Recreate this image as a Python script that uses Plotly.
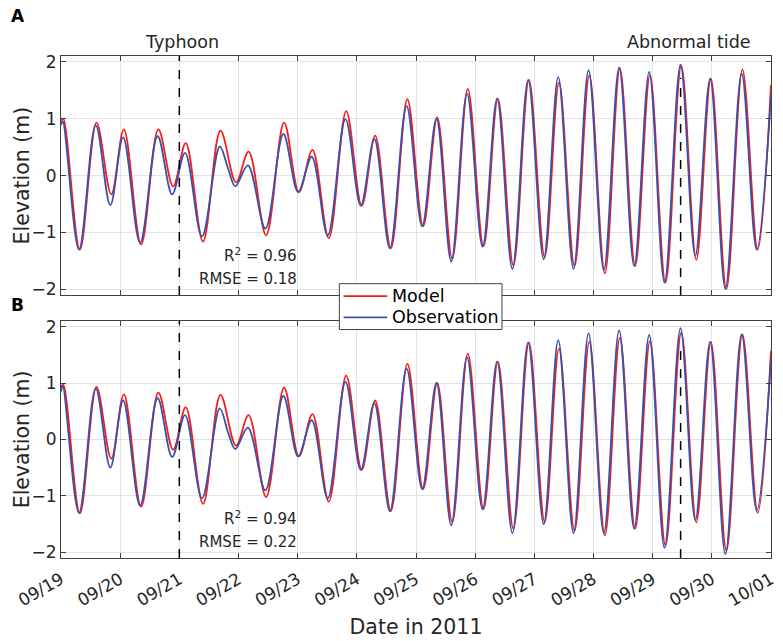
import pandas as pd
import plotly.graph_objects as go
from plotly.subplots import make_subplots

# hours after 2011-09-19 00:00 of the turning points
hours_model = [0, 0.9, 7.65, 14.4, 20.4, 25.5, 32.5, 39.5, 45.5, 50.6, 57.6, 64.7, 71.0, 76.1,
               83.2, 90.5, 96.5, 102.0, 108.6, 115.7, 122.0, 127.4, 133.8, 140.5, 146.9, 152.6,
               158.7, 165.0, 171.4, 177.2, 183.5, 189.8, 196.2, 202.0, 208.3, 214.3, 220.6, 226.7,
               232.9, 238.9, 245.2, 251.6, 257.7, 263.6, 269.9, 276.4, 282.6, 288.0]
hours_obs = [0, 0.7, 7.3, 14.1, 20.0, 25.2, 32.1, 39.2, 45.1, 50.3, 57.2, 64.4, 67.8, 70.7, 75.8,
             82.9, 90.2, 96.2, 101.7, 108.2, 115.4, 121.6, 127.1, 133.4, 140.2, 146.5, 152.3,
             158.3, 164.7, 171.0, 176.9, 183.1, 189.5, 195.8, 201.7, 207.9, 214.0, 220.2, 226.4,
             232.5, 238.6, 244.8, 251.3, 257.3, 263.3, 269.5, 276.1, 282.2, 288.0]

model_A = [0.95, 1.00, -1.30, 0.93, -0.33, 0.81, -1.21, 0.81, -0.19, 0.57, -1.16, 0.79, -0.12, 0.42,
           -1.05, 0.93, -0.29, 0.45, -1.10, 1.13, -0.53, 0.70, -1.28, 1.34, -0.89, 1.02,
           -1.46, 1.52, -1.24, 1.35, -1.58, 1.68, -1.43, 1.63, -1.59, 1.76, -1.72, 1.88,
           -1.59, 1.76, -1.88, 1.93, -1.48, 1.70, -1.99, 1.86, -1.30, 1.59]
obs_A = [0.89, 0.95, -1.30, 0.88, -0.52, 0.67, -1.18, 0.69, -0.33, 0.40, -1.07, 0.51, 0.12, -0.19, 0.18,
         -0.93, 0.73, -0.29, 0.33, -1.05, 0.99, -0.53, 0.64, -1.28, 1.22, -0.89, 1.00,
         -1.51, 1.44, -1.25, 1.35, -1.64, 1.68, -1.47, 1.73, -1.64, 1.85, -1.66, 1.90,
         -1.59, 1.82, -1.88, 1.95, -1.41, 1.70, -1.99, 1.79, -1.30, 1.41]

model_B = [0.93, 0.97, -1.31, 0.93, -0.34, 0.80, -1.19, 0.83, -0.18, 0.57, -1.14, 0.79, -0.11, 0.43,
           -1.02, 0.92, -0.30, 0.45, -1.10, 1.13, -0.54, 0.69, -1.27, 1.34, -0.88, 1.00,
           -1.46, 1.52, -1.23, 1.38, -1.58, 1.72, -1.46, 1.61, -1.62, 1.73, -1.70, 1.80,
           -1.58, 1.74, -1.88, 1.89, -1.47, 1.73, -1.97, 1.86, -1.30, 1.57]
obs_B = [0.85, 0.95, -1.30, 0.90, -0.50, 0.69, -1.17, 0.73, -0.31, 0.43, -1.04, 0.55, 0.12, -0.17, 0.21,
         -0.90, 0.77, -0.30, 0.34, -1.04, 1.02, -0.54, 0.64, -1.27, 1.25, -0.88, 1.00,
         -1.52, 1.46, -1.24, 1.38, -1.66, 1.72, -1.50, 1.76, -1.66, 1.88, -1.66, 1.93,
         -1.58, 1.85, -1.92, 1.97, -1.43, 1.73, -2.03, 1.86, -1.26, 1.43]

series_names = ["Model", "Observation"]
stats_A = ["0.96", "0.18"]
stats_B = ["0.94", "0.22"]
typhoon_time = "2011-09-21 00:00"
abnormal_time = "2011-09-29 11:20"
abnormal_top = [1.72, 1.70]

base = pd.Timestamp("2011-09-19")
t_model = base + pd.to_timedelta(hours_model, unit="h")
t_obs = base + pd.to_timedelta(hours_obs, unit="h")

RED = "rgb(245,30,30)"
BLUE = "rgb(60,80,170)"
COLORS = [RED, BLUE]
FONT = "DejaVu Sans"
TXT = "#262626"

fig = make_subplots(rows=2, cols=1, shared_xaxes=False, vertical_spacing=0.0)

for row, (m, o) in enumerate([(model_A, obs_A), (model_B, obs_B)], start=1):
    fig.add_trace(go.Scatter(x=t_model, y=m, mode="lines", name=series_names[0],
                             line=dict(color=RED, width=1.8, shape="spline", smoothing=1.0),
                             showlegend=False), row=row, col=1)
    fig.add_trace(go.Scatter(x=t_obs, y=o, mode="lines", name=series_names[1],
                             line=dict(color=BLUE, width=1.8, shape="spline", smoothing=1.0),
                             showlegend=False), row=row, col=1)

axis_common = dict(showline=True, linecolor="#404040", linewidth=1, mirror="ticks",
                   ticks="inside", ticklen=5, tickcolor="#404040",
                   showgrid=True, gridcolor="#e3e3e3", gridwidth=1, zeroline=False,
                   tickfont=dict(family=FONT, size=17, color=TXT))

x_range = ["2011-09-19", "2011-10-01"]
fig.update_xaxes(axis_common, type="date", range=x_range, dtick=86400000, tick0="2011-09-19",
                 tickformat="%m/%d")
fig.update_xaxes(showticklabels=False, row=1, col=1)
fig.update_xaxes(tickangle=-30, ticklabelstandoff=4,
                 title=dict(text="Date in 2011", font=dict(family=FONT, size=20.5, color=TXT), standoff=10),
                 row=2, col=1)
fig.update_yaxes(axis_common, range=[-2.1, 2.1], tickvals=[-2, -1, 0, 1, 2])

fig.update_layout(
    width=783, height=641,
    margin=dict(l=61, r=6, t=56, b=79),
    plot_bgcolor="white", paper_bgcolor="white",
    font=dict(family=FONT, color=TXT),
    showlegend=False,
    yaxis=dict(domain=[0.5237, 1.0]),
    yaxis2=dict(domain=[0.0, 0.4723]),
)

PW, PH = 716.0, 506.0
def px(x):
    return (x - 61) / PW
def py(y):
    return (562 - y) / PH

# y axis titles
for ymid in [176, 442]:
    fig.add_annotation(text="Elevation (m)", textangle=-90, x=px(22), y=py(ymid), xref="paper", yref="paper",
                       xanchor="center", yanchor="middle", showarrow=False,
                       font=dict(family=FONT, size=20.5, color=TXT))

# event lines
for row, yref in [(1, "y"), (2, "y2")]:
    xref = "x" if row == 1 else "x2"
    fig.add_shape(type="line", xref=xref, yref=yref, x0=typhoon_time, x1=typhoon_time,
                  y0=-2.1, y1=2.1, line=dict(color="black", width=1.5, dash="dash"))
    fig.add_shape(type="line", xref=xref, yref=yref, x0=abnormal_time, x1=abnormal_time,
                  y0=-2.1, y1=abnormal_top[row - 1], line=dict(color="black", width=1.5, dash="dash"))

# legend box (between the panels)
fig.add_shape(type="rect", xref="paper", yref="paper", x0=px(341.7), x1=px(505.7), y0=py(331.7), y1=py(285.5),
              fillcolor="white", line=dict(color="#404040", width=1), layer="above")
for i, (name, col, yy) in enumerate(zip(series_names, COLORS, [298, 319.5])):
    fig.add_shape(type="line", xref="paper", yref="paper", x0=px(346), x1=px(390), y0=py(yy), y1=py(yy),
                  line=dict(color=col, width=1.8), layer="above")
    fig.add_annotation(text=name, x=px(393), y=py(yy), xref="paper", yref="paper", xanchor="left",
                       yanchor="middle", showarrow=False, font=dict(family=FONT, size=17.5, color="black"))

# texts
fig.add_annotation(text="Typhoon", x=typhoon_time, xref="x", y=1.0, yref="paper", yanchor="bottom",
                   yshift=2, xshift=3, showarrow=False, font=dict(family=FONT, size=17.5, color=TXT))
fig.add_annotation(text="Abnormal tide", x=abnormal_time, xref="x", y=1.0, yref="paper", yanchor="bottom",
                   yshift=2, xshift=8, showarrow=False, font=dict(family=FONT, size=17.5, color=TXT))
fig.add_annotation(text="<b>A</b>", x=px(17.5), xref="paper", y=py(16), yref="paper",
                   showarrow=False, xanchor="center", yanchor="middle", font=dict(family=FONT, size=17, color="black"))
fig.add_annotation(text="<b>B</b>", x=px(17.5), xref="paper", y=py(307), yref="paper",
                   showarrow=False, xanchor="center", yanchor="middle", font=dict(family=FONT, size=17, color="black"))

for stats, xr, yr in [(stats_A, "x", "y"), (stats_B, "x2", "y2")]:
    fig.add_annotation(text="R<sup>2</sup> = " + stats[0], x="2011-09-23 00:30", xref=xr, y=-1.4, yref=yr,
                       xanchor="right", showarrow=False, font=dict(family=FONT, size=15, color=TXT))
    fig.add_annotation(text="RMSE = " + stats[1], x="2011-09-23 00:30", xref=xr, y=-1.82, yref=yr,
                       xanchor="right", showarrow=False, font=dict(family=FONT, size=15, color=TXT))

fig.write_html("out.html")
